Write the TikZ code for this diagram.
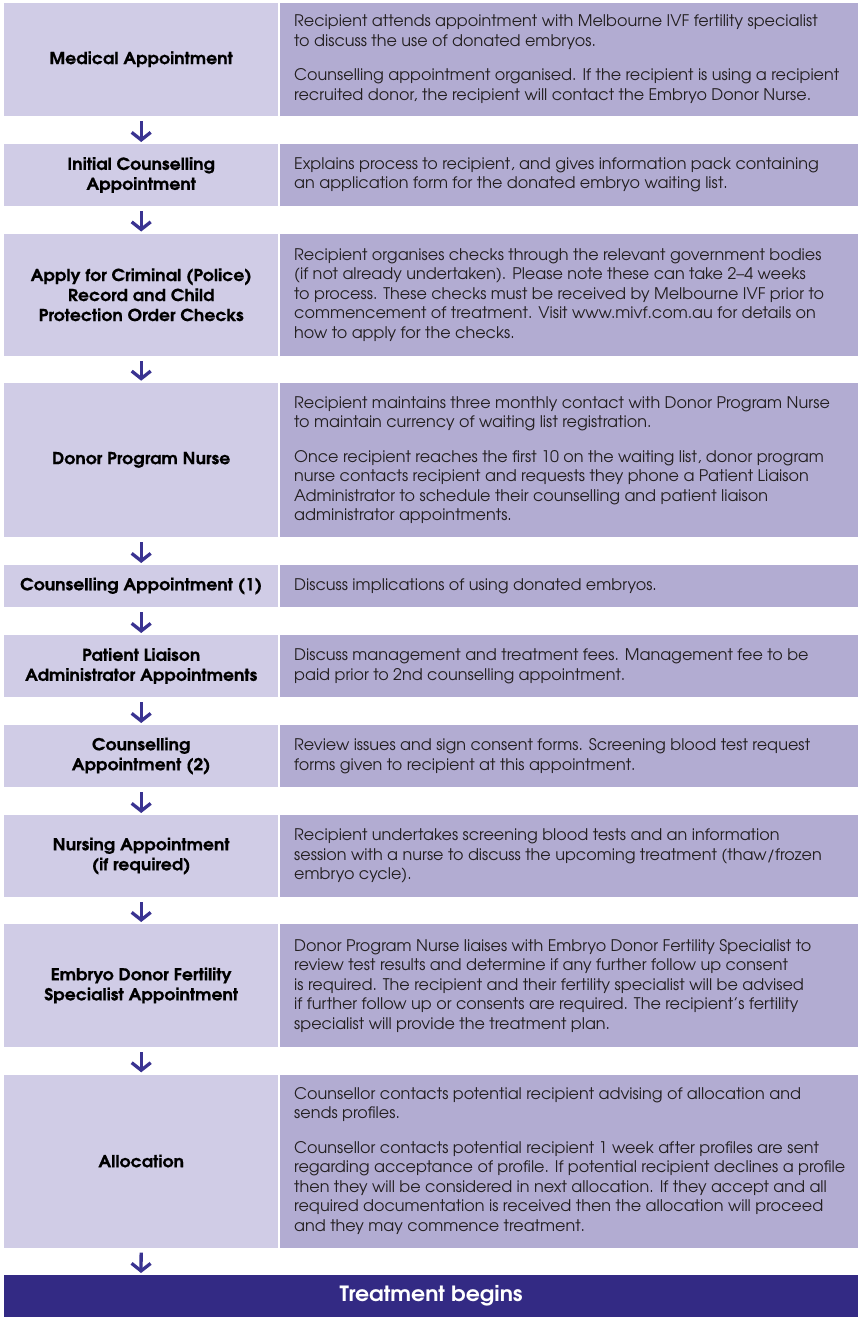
\documentclass[tikz,border=0pt]{standalone}
\usepackage{fontspec}
\setmainfont{texgyreadventor}[Extension=.otf,UprightFont=*-regular,BoldFont=*-bold,ItalicFont=*-italic,BoldItalicFont=*-bolditalic]
\newfontfamily\treatfont{texgyreadventor-bold.otf}[FakeStretch=1.05]
\newfontfamily\labfont{texgyreadventor-bold.otf}[FakeStretch=1.05,FakeBold=0.6]
\usetikzlibrary{arrows.meta}
\definecolor{lcol}{HTML}{D0CCE6}
\definecolor{rcol}{HTML}{B2ACD2}
\definecolor{dcol}{HTML}{332A84}
\definecolor{acol}{HTML}{3A3391}
\definecolor{tcol}{HTML}{231F20}
\newcommand\myrow[5]{%
  \node[lbox, minimum height=#3pt] (L#1) at (4,#2) {#4};
  \node[rbox, minimum height=#3pt] (R#1) at (280,#2) {};
  \node[rtext] (T#1) at ([xshift=14pt]R#1.west) {#5};
}
\begin{document}
\begin{tikzpicture}[x=1pt,y=-1pt,
  lbox/.style={fill=lcol, draw=none, minimum width=274pt, anchor=north west, inner sep=0pt, align=center, font=\labfont\fontsize{16.5}{20}\selectfont, text=black},
  rbox/.style={fill=rcol, draw=none, minimum width=578pt, anchor=north west, inner sep=0pt},
  rtext/.style={anchor=west, align=left, inner sep=0pt, font=\fontsize{16}{19.5}\selectfont, text=tcol},
  flow/.style={draw=acol, line width=3.3pt, -{Straight Barb[length=7.5pt,width=19pt]}, shorten <=5pt, shorten >=2pt}]
\useasboundingbox (0,0) rectangle (858,1317);
\fill[white] (0,0) rectangle (858,1317);

\myrow{1}{2.5}{113.2}{Medical Appointment}{Recipient attends appointment with Melbourne IVF fertility specialist\\to discuss the use of donated embryos.\\[15pt]Counselling appointment organised. If the recipient is using a recipient\\recruited donor, the recipient will contact the Embryo Donor Nurse.}
\myrow{2}{144}{61.7}{Initial Counselling\\Appointment}{Explains process to recipient, and gives information pack containing\\an application form for the donated embryo waiting list.}
\myrow{3}{233.5}{122.2}{Apply for Criminal (Police)\\Record and Child\\Protection Order Checks}{Recipient organises checks through the relevant government bodies\\(if not already undertaken). Please note these can take 2–4 weeks\\to process. These checks must be received by Melbourne IVF prior to\\commencement of treatment. Visit www.mivf.com.au for details on\\how to apply for the checks.}
\myrow{4}{382.7}{154}{Donor Program Nurse}{Recipient maintains three monthly contact with Donor Program Nurse\\to maintain currency of waiting list registration.\\[15pt]Once recipient reaches the first 10 on the waiting list, donor program\\nurse contacts recipient and requests they phone a Patient Liaison\\Administrator to schedule their counselling and patient liaison\\administrator appointments.}
\myrow{5}{565}{41.7}{Counselling Appointment (1)}{Discuss implications of using donated embryos.}
\myrow{6}{635}{61.7}{Patient Liaison\\Administrator Appointments}{Discuss management and treatment fees. Management fee to be\\paid prior to 2nd counselling appointment.}
\myrow{7}{725}{61.7}{Counselling\\Appointment (2)}{Review issues and sign consent forms. Screening blood test request\\forms given to recipient at this appointment.}
\myrow{8}{815}{81.7}{Nursing Appointment\\(if required)}{Recipient undertakes screening blood tests and an information\\session with a nurse to discuss the upcoming treatment (thaw/frozen\\embryo cycle).}
\myrow{9}{924}{122.7}{Embryo Donor Fertility\\Specialist Appointment}{Donor Program Nurse liaises with Embryo Donor Fertility Specialist to\\review test results and determine if any further follow up consent\\is required. The recipient and their fertility specialist will be advised\\if further follow up or consents are required. The recipient’s fertility\\specialist will provide the treatment plan.}
\myrow{10}{1074.3}{173}{Allocation}{Counsellor contacts potential recipient advising of allocation and\\sends profiles.\\[15pt]Counsellor contacts potential recipient 1 week after profiles are sent\\regarding acceptance of profile. If potential recipient declines a profile\\then they will be considered in next allocation. If they accept and all\\required documentation is received then the allocation will proceed\\and they may commence treatment.}

\node[fill=dcol, minimum width=854pt, minimum height=42pt, inner sep=0pt, anchor=north west, text=white, font=\treatfont\fontsize{21}{24}\selectfont] (TB) at (4,1275) {\raisebox{-2pt}{Treatment begins}};
\coordinate (TBtop) at (141,1275);

\draw[flow] (L1.south) -- (L2.north);
\draw[flow] (L2.south) -- (L3.north);
\draw[flow] (L3.south) -- (L4.north);
\draw[flow] (L4.south) -- (L5.north);
\draw[flow] (L5.south) -- (L6.north);
\draw[flow] (L6.south) -- (L7.north);
\draw[flow] (L7.south) -- (L8.north);
\draw[flow] (L8.south) -- (L9.north);
\draw[flow] (L9.south) -- (L10.north);
\draw[flow] (L10.south) -- (TBtop);
\end{tikzpicture}
\end{document}
